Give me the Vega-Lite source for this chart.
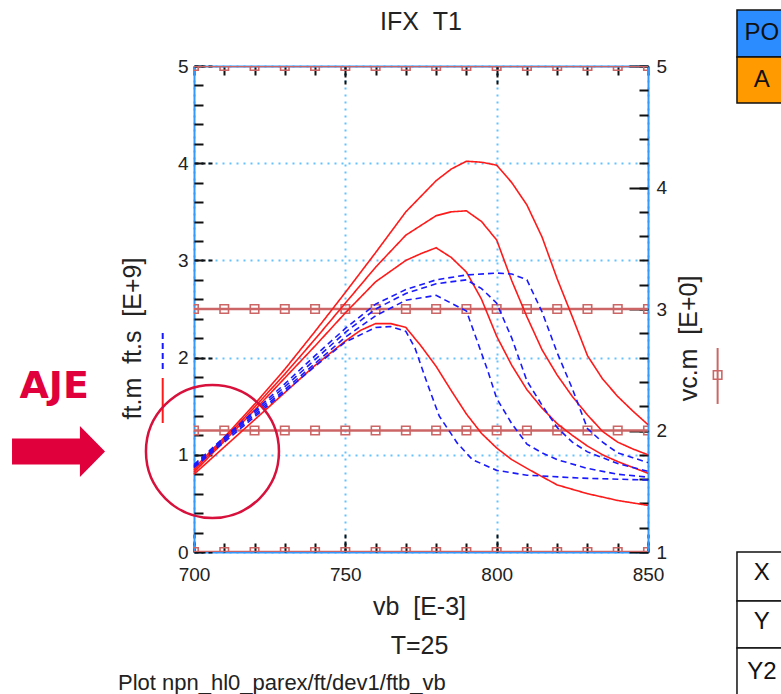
{
  "$schema": "https://vega.github.io/schema/vega-lite/v6.json",
  "width": 454,
  "height": 486,
  "autosize": {"type": "none"},
  "padding": {"left": 194, "top": 66, "right": 133, "bottom": 142},
  "background": "white",
  "title": {"text": "IFX\u00a0\u00a0T1", "fontSize": 25, "fontWeight": "normal", "font": "Liberation Sans", "color": "#222", "anchor": "middle", "frame": "group", "baseline": "middle", "offset": -37.75},
  "config": {
    "font": "Liberation Sans",
    "view": {"stroke": null},
    "axis": {"labelFont": "Liberation Sans", "titleFont": "Liberation Sans", "labelFontSize": 19, "titleFontSize": 25, "titleFontWeight": "normal", "labelColor": "#222", "titleColor": "#222", "tickColor": "#111", "tickWidth": 2, "labelOverlap": false, "labelFlush": false, "labelBound": false, "grid": false}
  },
  "datasets": {
    "ft": [
      {"c":"A","var":"ft.m","vb":700,"ft":0.86},{"c":"A","var":"ft.m","vb":710,"ft":1.18},{"c":"A","var":"ft.m","vb":720,"ft":1.52},{"c":"A","var":"ft.m","vb":730,"ft":1.88},{"c":"A","var":"ft.m","vb":740,"ft":2.27},{"c":"A","var":"ft.m","vb":750,"ft":2.67},{"c":"A","var":"ft.m","vb":760,"ft":3.08},{"c":"A","var":"ft.m","vb":770,"ft":3.5},{"c":"A","var":"ft.m","vb":780,"ft":3.82},{"c":"A","var":"ft.m","vb":785,"ft":3.94},{"c":"A","var":"ft.m","vb":790,"ft":4.02},{"c":"A","var":"ft.m","vb":795,"ft":4.01},{"c":"A","var":"ft.m","vb":800,"ft":3.98},{"c":"A","var":"ft.m","vb":805,"ft":3.8},{"c":"A","var":"ft.m","vb":810,"ft":3.57},{"c":"A","var":"ft.m","vb":815,"ft":3.24},{"c":"A","var":"ft.m","vb":820,"ft":2.81},{"c":"A","var":"ft.m","vb":825,"ft":2.42},{"c":"A","var":"ft.m","vb":830,"ft":2.02},{"c":"A","var":"ft.m","vb":835,"ft":1.78},{"c":"A","var":"ft.m","vb":840,"ft":1.6},{"c":"A","var":"ft.m","vb":845,"ft":1.45},{"c":"A","var":"ft.m","vb":850,"ft":1.31},
      {"c":"B","var":"ft.m","vb":700,"ft":0.84},{"c":"B","var":"ft.m","vb":710,"ft":1.16},{"c":"B","var":"ft.m","vb":720,"ft":1.49},{"c":"B","var":"ft.m","vb":730,"ft":1.83},{"c":"B","var":"ft.m","vb":740,"ft":2.19},{"c":"B","var":"ft.m","vb":750,"ft":2.56},{"c":"B","var":"ft.m","vb":760,"ft":2.93},{"c":"B","var":"ft.m","vb":770,"ft":3.26},{"c":"B","var":"ft.m","vb":780,"ft":3.46},{"c":"B","var":"ft.m","vb":785,"ft":3.5},{"c":"B","var":"ft.m","vb":790,"ft":3.51},{"c":"B","var":"ft.m","vb":795,"ft":3.4},{"c":"B","var":"ft.m","vb":800,"ft":3.21},{"c":"B","var":"ft.m","vb":805,"ft":2.79},{"c":"B","var":"ft.m","vb":810,"ft":2.42},{"c":"B","var":"ft.m","vb":815,"ft":2.08},{"c":"B","var":"ft.m","vb":820,"ft":1.82},{"c":"B","var":"ft.m","vb":825,"ft":1.6},{"c":"B","var":"ft.m","vb":830,"ft":1.41},{"c":"B","var":"ft.m","vb":835,"ft":1.24},{"c":"B","var":"ft.m","vb":840,"ft":1.13},{"c":"B","var":"ft.m","vb":845,"ft":1.06},{"c":"B","var":"ft.m","vb":850,"ft":1.0},
      {"c":"C","var":"ft.m","vb":700,"ft":0.82},{"c":"C","var":"ft.m","vb":710,"ft":1.14},{"c":"C","var":"ft.m","vb":720,"ft":1.46},{"c":"C","var":"ft.m","vb":730,"ft":1.79},{"c":"C","var":"ft.m","vb":740,"ft":2.12},{"c":"C","var":"ft.m","vb":750,"ft":2.46},{"c":"C","var":"ft.m","vb":760,"ft":2.78},{"c":"C","var":"ft.m","vb":770,"ft":3.0},{"c":"C","var":"ft.m","vb":775,"ft":3.07},{"c":"C","var":"ft.m","vb":780,"ft":3.13},{"c":"C","var":"ft.m","vb":785,"ft":3.03},{"c":"C","var":"ft.m","vb":790,"ft":2.88},{"c":"C","var":"ft.m","vb":795,"ft":2.6},{"c":"C","var":"ft.m","vb":800,"ft":2.22},{"c":"C","var":"ft.m","vb":805,"ft":1.92},{"c":"C","var":"ft.m","vb":810,"ft":1.67},{"c":"C","var":"ft.m","vb":815,"ft":1.48},{"c":"C","var":"ft.m","vb":820,"ft":1.32},{"c":"C","var":"ft.m","vb":825,"ft":1.2},{"c":"C","var":"ft.m","vb":830,"ft":1.09},{"c":"C","var":"ft.m","vb":835,"ft":1.0},{"c":"C","var":"ft.m","vb":840,"ft":0.93},{"c":"C","var":"ft.m","vb":845,"ft":0.87},{"c":"C","var":"ft.m","vb":850,"ft":0.81},
      {"c":"D","var":"ft.m","vb":700,"ft":0.8},{"c":"D","var":"ft.m","vb":710,"ft":1.08},{"c":"D","var":"ft.m","vb":720,"ft":1.36},{"c":"D","var":"ft.m","vb":730,"ft":1.64},{"c":"D","var":"ft.m","vb":740,"ft":1.92},{"c":"D","var":"ft.m","vb":750,"ft":2.17},{"c":"D","var":"ft.m","vb":755,"ft":2.28},{"c":"D","var":"ft.m","vb":760,"ft":2.35},{"c":"D","var":"ft.m","vb":765,"ft":2.35},{"c":"D","var":"ft.m","vb":770,"ft":2.31},{"c":"D","var":"ft.m","vb":775,"ft":2.12},{"c":"D","var":"ft.m","vb":780,"ft":1.91},{"c":"D","var":"ft.m","vb":785,"ft":1.66},{"c":"D","var":"ft.m","vb":790,"ft":1.42},{"c":"D","var":"ft.m","vb":795,"ft":1.22},{"c":"D","var":"ft.m","vb":800,"ft":1.07},{"c":"D","var":"ft.m","vb":805,"ft":0.95},{"c":"D","var":"ft.m","vb":810,"ft":0.86},{"c":"D","var":"ft.m","vb":820,"ft":0.69},{"c":"D","var":"ft.m","vb":830,"ft":0.6},{"c":"D","var":"ft.m","vb":840,"ft":0.53},{"c":"D","var":"ft.m","vb":850,"ft":0.48},
      {"c":"E","var":"ft.s","vb":700,"ft":0.9},{"c":"E","var":"ft.s","vb":710,"ft":1.18},{"c":"E","var":"ft.s","vb":720,"ft":1.45},{"c":"E","var":"ft.s","vb":730,"ft":1.73},{"c":"E","var":"ft.s","vb":740,"ft":2.02},{"c":"E","var":"ft.s","vb":750,"ft":2.3},{"c":"E","var":"ft.s","vb":760,"ft":2.55},{"c":"E","var":"ft.s","vb":770,"ft":2.7},{"c":"E","var":"ft.s","vb":780,"ft":2.8},{"c":"E","var":"ft.s","vb":790,"ft":2.85},{"c":"E","var":"ft.s","vb":800,"ft":2.87},{"c":"E","var":"ft.s","vb":805,"ft":2.86},{"c":"E","var":"ft.s","vb":810,"ft":2.8},{"c":"E","var":"ft.s","vb":815,"ft":2.47},{"c":"E","var":"ft.s","vb":820,"ft":2.05},{"c":"E","var":"ft.s","vb":825,"ft":1.68},{"c":"E","var":"ft.s","vb":830,"ft":1.27},{"c":"E","var":"ft.s","vb":835,"ft":1.13},{"c":"E","var":"ft.s","vb":840,"ft":1.02},{"c":"E","var":"ft.s","vb":845,"ft":0.97},{"c":"E","var":"ft.s","vb":850,"ft":0.92},
      {"c":"F","var":"ft.s","vb":700,"ft":0.89},{"c":"F","var":"ft.s","vb":710,"ft":1.17},{"c":"F","var":"ft.s","vb":720,"ft":1.43},{"c":"F","var":"ft.s","vb":730,"ft":1.7},{"c":"F","var":"ft.s","vb":740,"ft":1.98},{"c":"F","var":"ft.s","vb":750,"ft":2.26},{"c":"F","var":"ft.s","vb":760,"ft":2.5},{"c":"F","var":"ft.s","vb":770,"ft":2.66},{"c":"F","var":"ft.s","vb":780,"ft":2.76},{"c":"F","var":"ft.s","vb":790,"ft":2.8},{"c":"F","var":"ft.s","vb":795,"ft":2.71},{"c":"F","var":"ft.s","vb":800,"ft":2.56},{"c":"F","var":"ft.s","vb":805,"ft":2.2},{"c":"F","var":"ft.s","vb":810,"ft":1.76},{"c":"F","var":"ft.s","vb":815,"ft":1.51},{"c":"F","var":"ft.s","vb":820,"ft":1.28},{"c":"F","var":"ft.s","vb":825,"ft":1.13},{"c":"F","var":"ft.s","vb":830,"ft":1.03},{"c":"F","var":"ft.s","vb":840,"ft":0.91},{"c":"F","var":"ft.s","vb":850,"ft":0.83},
      {"c":"G","var":"ft.s","vb":700,"ft":0.88},{"c":"G","var":"ft.s","vb":710,"ft":1.15},{"c":"G","var":"ft.s","vb":720,"ft":1.41},{"c":"G","var":"ft.s","vb":730,"ft":1.67},{"c":"G","var":"ft.s","vb":740,"ft":1.94},{"c":"G","var":"ft.s","vb":750,"ft":2.21},{"c":"G","var":"ft.s","vb":760,"ft":2.43},{"c":"G","var":"ft.s","vb":770,"ft":2.59},{"c":"G","var":"ft.s","vb":780,"ft":2.64},{"c":"G","var":"ft.s","vb":785,"ft":2.56},{"c":"G","var":"ft.s","vb":790,"ft":2.48},{"c":"G","var":"ft.s","vb":793,"ft":2.22},{"c":"G","var":"ft.s","vb":797,"ft":1.87},{"c":"G","var":"ft.s","vb":800,"ft":1.58},{"c":"G","var":"ft.s","vb":805,"ft":1.32},{"c":"G","var":"ft.s","vb":810,"ft":1.11},{"c":"G","var":"ft.s","vb":815,"ft":1.02},{"c":"G","var":"ft.s","vb":820,"ft":0.95},{"c":"G","var":"ft.s","vb":830,"ft":0.86},{"c":"G","var":"ft.s","vb":840,"ft":0.8},{"c":"G","var":"ft.s","vb":850,"ft":0.77},
      {"c":"H","var":"ft.s","vb":700,"ft":0.87},{"c":"H","var":"ft.s","vb":710,"ft":1.13},{"c":"H","var":"ft.s","vb":720,"ft":1.39},{"c":"H","var":"ft.s","vb":730,"ft":1.65},{"c":"H","var":"ft.s","vb":740,"ft":1.91},{"c":"H","var":"ft.s","vb":750,"ft":2.16},{"c":"H","var":"ft.s","vb":760,"ft":2.31},{"c":"H","var":"ft.s","vb":765,"ft":2.32},{"c":"H","var":"ft.s","vb":770,"ft":2.27},{"c":"H","var":"ft.s","vb":773,"ft":2.1},{"c":"H","var":"ft.s","vb":777,"ft":1.74},{"c":"H","var":"ft.s","vb":781,"ft":1.4},{"c":"H","var":"ft.s","vb":787,"ft":1.12},{"c":"H","var":"ft.s","vb":792,"ft":0.95},{"c":"H","var":"ft.s","vb":800,"ft":0.84},{"c":"H","var":"ft.s","vb":810,"ft":0.79},{"c":"H","var":"ft.s","vb":828,"ft":0.76},{"c":"H","var":"ft.s","vb":850,"ft":0.74}
    ],
    "vc": [
      {"lvl":"1","vb":700,"vc":1},{"lvl":"1","vb":710,"vc":1},{"lvl":"1","vb":720,"vc":1},{"lvl":"1","vb":730,"vc":1},{"lvl":"1","vb":740,"vc":1},{"lvl":"1","vb":750,"vc":1},{"lvl":"1","vb":760,"vc":1},{"lvl":"1","vb":770,"vc":1},{"lvl":"1","vb":780,"vc":1},{"lvl":"1","vb":790,"vc":1},{"lvl":"1","vb":800,"vc":1},{"lvl":"1","vb":810,"vc":1},{"lvl":"1","vb":820,"vc":1},{"lvl":"1","vb":830,"vc":1},{"lvl":"1","vb":840,"vc":1},{"lvl":"1","vb":850,"vc":1},
      {"lvl":"2","vb":700,"vc":2},{"lvl":"2","vb":710,"vc":2},{"lvl":"2","vb":720,"vc":2},{"lvl":"2","vb":730,"vc":2},{"lvl":"2","vb":740,"vc":2},{"lvl":"2","vb":750,"vc":2},{"lvl":"2","vb":760,"vc":2},{"lvl":"2","vb":770,"vc":2},{"lvl":"2","vb":780,"vc":2},{"lvl":"2","vb":790,"vc":2},{"lvl":"2","vb":800,"vc":2},{"lvl":"2","vb":810,"vc":2},{"lvl":"2","vb":820,"vc":2},{"lvl":"2","vb":830,"vc":2},{"lvl":"2","vb":840,"vc":2},{"lvl":"2","vb":850,"vc":2},
      {"lvl":"3","vb":700,"vc":3},{"lvl":"3","vb":710,"vc":3},{"lvl":"3","vb":720,"vc":3},{"lvl":"3","vb":730,"vc":3},{"lvl":"3","vb":740,"vc":3},{"lvl":"3","vb":750,"vc":3},{"lvl":"3","vb":760,"vc":3},{"lvl":"3","vb":770,"vc":3},{"lvl":"3","vb":780,"vc":3},{"lvl":"3","vb":790,"vc":3},{"lvl":"3","vb":800,"vc":3},{"lvl":"3","vb":810,"vc":3},{"lvl":"3","vb":820,"vc":3},{"lvl":"3","vb":830,"vc":3},{"lvl":"3","vb":840,"vc":3},{"lvl":"3","vb":850,"vc":3},
      {"lvl":"5","vb":700,"vc":5},{"lvl":"5","vb":710,"vc":5},{"lvl":"5","vb":720,"vc":5},{"lvl":"5","vb":730,"vc":5},{"lvl":"5","vb":740,"vc":5},{"lvl":"5","vb":750,"vc":5},{"lvl":"5","vb":760,"vc":5},{"lvl":"5","vb":770,"vc":5},{"lvl":"5","vb":780,"vc":5},{"lvl":"5","vb":790,"vc":5},{"lvl":"5","vb":800,"vc":5},{"lvl":"5","vb":810,"vc":5},{"lvl":"5","vb":820,"vc":5},{"lvl":"5","vb":830,"vc":5},{"lvl":"5","vb":840,"vc":5},{"lvl":"5","vb":850,"vc":5}
    ],
    "boxes": [
      {"box":"PO","x1":879.4,"x2":905,"y1":5.093,"y2":5.576},
      {"box":"A","x1":879.4,"x2":905,"y1":4.619,"y2":5.093},
      {"box":"X","x1":879.4,"x2":905,"y1":-0.504,"y2":0},
      {"box":"Y","x1":879.4,"x2":905,"y1":-0.988,"y2":-0.504},
      {"box":"Y2","x1":879.4,"x2":905,"y1":-1.6,"y2":-0.988}
    ],
    "boxtext": [
      {"t":"PO","x":887.6,"y":5.34},
      {"t":"A","x":887.6,"y":4.856},
      {"t":"X","x":887.6,"y":-0.216},
      {"t":"Y","x":887.6,"y":-0.72},
      {"t":"Y2","x":887.6,"y":-1.235}
    ],
    "legendkeys": [
      {"var":"ft.s","x":689.66,"y":2.253,"y2":1.872},
      {"var":"ft.m","x":689.66,"y":1.79,"y2":1.327}
    ],
    "vclegend": [{"x":873.0,"y":2.099,"y2":1.523,"ym":1.821}],
    "note": [{"t":"Plot npn_hl0_parex/ft/dev1/ftb_vb","x":674.9,"y":-1.348}],
    "mark": [{"t":"AJE","x":653.8,"y":1.70,"ax":655.24,"ay":1.034,"cx":706.1,"cy":1.034}]
  },
  "resolve": {"scale": {"y": "independent"}, "axis": {"x": "independent", "y": "independent"}},
  "layer": [
    {
      "data": {"name": "vc"},
      "encoding": {
        "x": {"field": "vb", "type": "quantitative", "scale": {"domain": [700, 850], "nice": false, "zero": false},
          "axis": {"orient": "top", "values": [700,710,720,730,740,750,760,770,780,790,800,810,820,830,840,850], "tickSize": -9, "labels": false, "title": null, "domainColor": "#3399ff", "domainWidth": 2}},
        "y": {"field": "vc", "type": "quantitative", "scale": {"domain": [1, 5], "nice": false, "zero": false},
          "axis": {"orient": "right", "values": [1, 2, 3, 4, 5], "tickSize": -19, "format": "d", "labelPadding": 27, "title": "vc.m\u00a0\u00a0[E+0]", "titleAngle": 270, "titleX": 40, "titleY": 272, "titleAlign": "center", "titleBaseline": "middle", "domainColor": "#3399ff", "domainWidth": 2}},
        "detail": {"field": "lvl"}
      },
      "layer": [
        {"mark": {"type": "line", "clip": true, "color": "#cc6666", "strokeWidth": 2.5}},
        {"mark": {"type": "point", "clip": true, "shape": "square", "filled": false, "color": "#cc6666", "size": 72, "strokeWidth": 1.6, "opacity": 1}}
      ]
    },
    {
      "data": {"name": "ft"},
      "mark": {"type": "line", "strokeWidth": 1.6},
      "encoding": {
        "x": {"field": "vb", "type": "quantitative", "scale": {"domain": [700, 850], "nice": false, "zero": false},
          "axis": {"orient": "bottom", "values": [700, 750, 800, 850], "tickSize": -19, "tickDash": [4, 3], "format": "d", "labelPadding": 32, "title": ["vb\u00a0\u00a0[E-3]", "T=25"], "titleX": 225, "titleY": 42, "titleAlign": "center", "titleBaseline": "top", "titleLineHeight": 39, "domainColor": "#3399ff", "domainWidth": 2, "grid": true, "gridColor": "#66c2ff", "gridDash": [2, 5], "gridWidth": 2}},
        "y": {"field": "ft", "type": "quantitative", "scale": {"domain": [0, 5], "nice": false, "zero": false},
          "axis": {"orient": "left", "values": [0, 1, 2, 3, 4, 5], "tickSize": -19, "tickDash": [4, 3], "format": "d", "labelPadding": 25, "title": "ft.m\u00a0\u00a0ft.s\u00a0\u00a0[E+9]", "titleAngle": 270, "titleX": -62, "titleY": 272, "titleAlign": "center", "titleBaseline": "middle", "domainColor": "#3399ff", "domainWidth": 2, "grid": true, "gridColor": "#66c2ff", "gridDash": [2, 5], "gridWidth": 2}},
        "color": {"field": "var", "type": "nominal", "scale": {"domain": ["ft.m", "ft.s"], "range": ["#ff1a1a", "#1a1aff"]}, "legend": null},
        "strokeDash": {"field": "var", "type": "nominal", "scale": {"domain": ["ft.m", "ft.s"], "range": [[1, 0], [6, 4]]}, "legend": null},
        "detail": {"field": "c"}
      }
    },
    {
      "data": {"name": "boxes"},
      "mark": {"type": "rect", "stroke": "#111", "strokeWidth": 1.5},
      "encoding": {
        "x": {"field": "x1", "type": "quantitative", "scale": {"domain": [700, 850], "nice": false, "zero": false}, "axis": null},
        "x2": {"field": "x2"},
        "y": {"field": "y1", "type": "quantitative", "scale": {"domain": [0, 5], "nice": false, "zero": false}, "axis": null},
        "y2": {"field": "y2"},
        "fill": {"field": "box", "type": "nominal", "scale": {"domain": ["PO", "A", "X", "Y", "Y2"], "range": ["#2b8cff", "#ff9a00", "#ffffff", "#ffffff", "#ffffff"]}, "legend": null}
      }
    },
    {
      "data": {"name": "legendkeys"},
      "mark": {"type": "rule", "strokeWidth": 2},
      "encoding": {
        "x": {"field": "x", "type": "quantitative", "scale": {"domain": [700, 850], "nice": false, "zero": false}, "axis": null},
        "y": {"field": "y", "type": "quantitative", "scale": {"domain": [0, 5], "nice": false, "zero": false}, "axis": null},
        "y2": {"field": "y2"},
        "color": {"field": "var", "type": "nominal", "legend": null},
        "strokeDash": {"field": "var", "type": "nominal", "legend": null}
      }
    },
    {
      "data": {"name": "vclegend"},
      "encoding": {
        "x": {"field": "x", "type": "quantitative", "scale": {"domain": [700, 850], "nice": false, "zero": false}, "axis": null}
      },
      "layer": [
        {"mark": {"type": "rule", "color": "#cc6666", "strokeWidth": 2},
         "encoding": {"y": {"field": "y", "type": "quantitative", "scale": {"domain": [0, 5], "nice": false, "zero": false}, "axis": null}, "y2": {"field": "y2"}}},
        {"mark": {"type": "point", "shape": "square", "filled": false, "color": "#cc6666", "size": 72, "strokeWidth": 1.6, "opacity": 1},
         "encoding": {"y": {"field": "ym", "type": "quantitative", "scale": {"domain": [0, 5], "nice": false, "zero": false}, "axis": null}}}
      ]
    },
    {
      "data": {"name": "mark"},
      "mark": {"type": "point", "shape": "circle", "filled": false, "color": "#d8103c", "size": 17689, "strokeWidth": 2.5, "opacity": 1},
      "encoding": {
        "x": {"field": "cx", "type": "quantitative", "scale": {"domain": [700, 850], "nice": false, "zero": false},
          "axis": {"orient": "top", "values": [750, 800], "tickSize": -19, "tickDash": [4, 3], "labels": false, "domain": false, "title": null}},
        "y": {"field": "cy", "type": "quantitative", "scale": {"domain": [0, 5], "nice": false, "zero": false},
          "axis": {"orient": "right", "values": [0,0.25,0.5,0.75,1,1.25,1.5,1.75,2,2.25,2.5,2.75,3,3.25,3.5,3.75,4,4.25,4.5,4.75,5], "tickSize": -9, "labels": false, "domain": false, "title": null}}
      }
    },
    {
      "data": {"name": "mark"},
      "mark": {"type": "point", "shape": "M-1,-0.28L0.46,-0.28L0.46,-0.55L1,0L0.46,0.55L0.46,0.28L-1,0.28Z", "filled": true, "color": "#e0003c", "size": 8649, "opacity": 1, "strokeWidth": 0},
      "encoding": {
        "x": {"field": "ax", "type": "quantitative", "scale": {"domain": [700, 850], "nice": false, "zero": false}, "axis": null},
        "y": {"field": "ay", "type": "quantitative", "scale": {"domain": [0, 5], "nice": false, "zero": false}, "axis": null}
      }
    },
    {
      "data": {"name": "mark"},
      "mark": {"type": "text", "font": "DejaVu Sans", "fontWeight": "bold", "fontSize": 38, "color": "#e0003c", "align": "center", "baseline": "middle"},
      "encoding": {
        "x": {"field": "x", "type": "quantitative", "scale": {"domain": [700, 850], "nice": false, "zero": false}, "axis": null},
        "y": {"field": "y", "type": "quantitative", "scale": {"domain": [0, 5], "nice": false, "zero": false}, "axis": null},
        "text": {"field": "t"}
      }
    },
    {
      "data": {"name": "note"},
      "mark": {"type": "text", "fontSize": 22, "color": "#222", "align": "left", "baseline": "middle"},
      "encoding": {
        "x": {"field": "x", "type": "quantitative", "scale": {"domain": [700, 850], "nice": false, "zero": false},
          "axis": {"orient": "bottom", "values": [700,710,720,730,740,750,760,770,780,790,800,810,820,830,840,850], "tickSize": -9, "labels": false, "domain": false, "title": null}},
        "y": {"field": "y", "type": "quantitative", "scale": {"domain": [0, 5], "nice": false, "zero": false},
          "axis": {"orient": "left", "values": [0,0.2,0.4,0.6,0.8,1,1.2,1.4,1.6,1.8,2,2.2,2.4,2.6,2.8,3,3.2,3.4,3.6,3.8,4,4.2,4.4,4.6,4.8,5], "tickSize": -9, "labels": false, "domain": false, "title": null}},
        "text": {"field": "t"}
      }
    },
    {
      "data": {"name": "boxtext"},
      "mark": {"type": "text", "fontSize": 24, "color": "#111", "align": "center", "baseline": "middle"},
      "encoding": {
        "x": {"field": "x", "type": "quantitative", "scale": {"domain": [700, 850], "nice": false, "zero": false}, "axis": null},
        "y": {"field": "y", "type": "quantitative", "scale": {"domain": [0, 5], "nice": false, "zero": false}, "axis": null},
        "text": {"field": "t"}
      }
    }
  ]
}
